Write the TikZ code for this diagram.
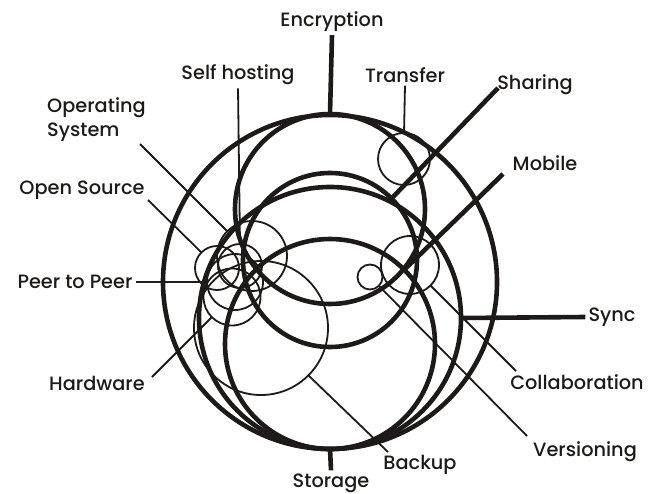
\documentclass[tikz,border=0pt]{standalone}
\usepackage{fontspec}
\setmainfont{Poppins}[UprightFont=* Medium]
\definecolor{ink}{HTML}{1C1B19}
\tikzset{
  thickring/.style={circle, draw=ink, line width=4.6pt, inner sep=0pt, outer sep=0pt},
  thinring/.style={circle, draw=ink, line width=1.8pt, inner sep=0pt, outer sep=0pt},
  thicklead/.style={draw=ink, line width=4.6pt},
  thinlead/.style={draw=ink, line width=1.8pt},
  lbl/.style={text=ink, inner sep=3pt, font=\fontsize{19.3}{24}\selectfont}
}
\begin{document}
\begin{tikzpicture}[x=1pt, y=-1pt]
\useasboundingbox (0,0) rectangle (660,494);

% labels
\node[lbl] (enclbl) at (332,22) {Encryption};
\node[lbl] (selflbl) at (238,75) {Self hosting};
\node[lbl] (translbl) at (405,75) {Transfer};
\node[lbl] (sharelbl) at (535,85) {Sharing};
\node[lbl, align=left, anchor=west] (oslbl) at (44,120) {Operating\\System};
\node[lbl] (openlbl) at (82,190) {Open Source};
\node[lbl] (mobilelbl) at (545,163) {Mobile};
\node[lbl] (p2pbl) at (75,282) {Peer to Peer};
\node[lbl] (synclbl) at (612,317) {Sync};
\node[lbl] (hwlbl) at (97,383) {Hardware};
\node[lbl] (colllbl) at (577,382) {Collaboration};
\node[lbl] (verlbl) at (585,452) {Versioning};
\node[lbl] (backlbl) at (420,465) {Backup};
\node[lbl] (storelbl) at (331,483) {Storage};

% heavy rings
\node[thickring, minimum size=334pt] (storering) at (330,282) {};
\node[thickring, minimum size=190pt] (encring) at (330,209) {};
\node[thickring, minimum size=174pt] (sharering) at (330,260) {};
\node[thickring, minimum size=262pt] (syncring) at (330,318) {};
\node[thickring, minimum size=210pt] (mobilering) at (330,344) {};

% light rings
\node[thinring, minimum size=52pt] (transring) at (404,159) {};
\node[thinring, minimum size=58pt] (collring) at (410,265) {};
\node[thinring, minimum size=25pt] (verring) at (370,277) {};
\node[thinring, minimum size=134pt] (backring) at (261,328) {};
\node[thinring, minimum size=70pt] (osring) at (252,256) {};
\node[thinring, minimum size=44pt] (openring) at (217,268) {};
\node[thinring, minimum size=44pt] (selfring) at (240,266) {};
\node[thinring, minimum size=56pt] (p2pring) at (235,282) {};
\node[thinring, minimum size=57pt] (hwring) at (232,297) {};

% free ends of the diagonal leaders
\coordinate (sharetip) at (498,88);
\coordinate (mobiletip) at (503,174);
\coordinate (ostip) at (140,144);
\coordinate (opentip) at (148,200);
\coordinate (hwtip) at (152,377);
\coordinate (backtip) at (388,452);
\coordinate (colltip) at (516,371);
\coordinate (vertip) at (527,436);

% heavy leaders
\draw[thicklead] (storering.south) -- (storelbl.north);
\draw[thicklead] (encring.north) -- (enclbl.south);
\draw[thicklead] (syncring.east) -- (synclbl.west);
\draw[thicklead] (sharering.45) -- (sharetip);
\draw[thicklead] (mobilering.45) -- (mobiletip);

% light leaders
\draw[thinlead] (transring.north) -- (translbl.south);
\draw[thinlead] (selfring.north) -- (selflbl.south);
\draw[thinlead] (osring.135) -- (ostip);
\draw[thinlead] (openring.135) -- (opentip);
\draw[thinlead] (p2pring.west) -- (p2pbl.east);
\draw[thinlead] (hwring.225) -- (hwtip);
\draw[thinlead] (backring.-45) -- (backtip);
\draw[thinlead] (collring.-45) -- (colltip);
\draw[thinlead] (verring.-45) -- (vertip);
\end{tikzpicture}
\end{document}
